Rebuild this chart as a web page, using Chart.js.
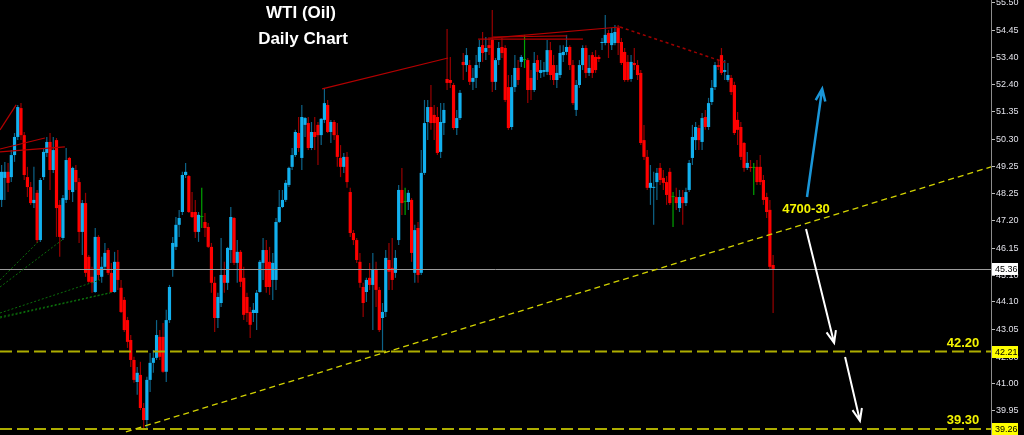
<!DOCTYPE html>
<html lang="en">
<head>
  <meta charset="UTF-8">
  <title>WTI (Oil) Daily Chart</title>
  <script src="https://cdn.jsdelivr.net/npm/chart.js"></script>
  <style>
    html, body { margin: 0; padding: 0; background: #000; }
    canvas { display: block; }
  </style>
</head>
<body>
  <canvas id="oilChart" width="1024" height="435"></canvas>

  <script>
    // daily OHLC, oldest first
    const open = [
      47.99, 48.83, 49.06, 48.86, 49.70, 50.39, 51.49, 50.46, 48.86, 48.48,
      47.87, 48.26, 46.46, 48.86, 49.78, 50.20, 49.13, 50.27, 47.80, 46.54,
      47.99, 49.59, 48.29, 49.13, 48.67, 46.77, 47.87, 45.82, 45.06, 44.48,
      46.58, 45.06, 45.44, 46.08, 45.21, 44.48, 45.63, 44.64, 44.18, 43.41,
      42.65, 41.89, 41.05, 41.32, 40.06, 39.60, 41.13, 41.78, 41.97, 42.77,
      42.77, 41.44, 43.41, 45.32, 46.20, 47.04, 47.53, 48.94, 48.90, 47.53,
      47.53, 46.77, 47.34, 47.15, 46.96, 46.20, 44.83, 43.49, 44.06, 45.13,
      44.83, 46.08, 47.30, 45.59, 46.01, 45.02, 44.29, 43.72, 43.68, 43.68,
      44.48, 45.59, 46.08, 45.63, 44.94, 44.94, 47.15, 47.72, 47.99, 48.56,
      49.25, 49.70, 50.54, 49.59, 50.85, 50.92, 49.97, 50.58, 50.85, 50.46,
      51.04, 51.61, 50.58, 50.96, 50.46, 49.59, 49.25, 49.63, 48.29, 46.73,
      46.46, 45.63, 44.67, 44.48, 45.02, 44.75, 45.32, 44.56, 43.49, 43.72,
      45.70, 45.40, 45.21, 46.46, 48.37, 47.91, 47.91, 47.99, 45.21, 46.92,
      45.21, 49.02, 50.96, 51.53, 51.23, 51.15, 49.82, 50.92, 52.60, 52.56,
      52.37, 50.73, 51.11, 53.25, 53.13, 53.13, 52.49, 52.64, 53.25, 53.89,
      53.63, 53.89, 54.09, 52.49, 53.32, 53.82, 53.78, 52.29, 50.77, 52.29,
      53.02, 53.25, 53.32, 53.32, 52.64, 52.18, 53.32, 52.83, 52.87, 52.87,
      53.70, 53.13, 52.56, 52.75, 53.51, 53.63, 53.82, 53.13, 51.42, 52.37,
      53.13, 53.78, 52.83, 53.51, 53.44, 53.44, 53.97, 53.97, 54.35, 53.89,
      53.97, 54.54, 54.01, 53.63, 53.25, 52.60, 53.21, 53.13, 52.83, 50.27,
      49.63, 48.45, 48.45, 48.67, 49.21, 48.83, 48.67, 49.06, 48.10, 48.10,
      47.68, 48.10, 47.87, 48.37, 49.59, 50.27, 50.73, 50.20, 51.15, 50.77,
      51.72, 52.29, 53.13, 53.51, 52.87, 52.56, 52.64, 52.37, 51.04, 50.77,
      50.16, 49.21, 49.25, 49.21, 49.25, 49.25, 48.75, 48.10, 47.61, 45.51
    ];
    const high = [
      49.32, 49.44, 49.40, 49.89, 50.54, 51.61, 51.68, 50.58, 49.25, 48.67,
      49.25, 48.37, 48.83, 49.97, 50.39, 50.54, 50.39, 50.35, 47.99, 48.18,
      49.97, 49.63, 49.25, 49.32, 48.83, 47.99, 48.26, 45.89, 45.44, 46.92,
      46.65, 45.82, 46.35, 46.16, 45.59, 46.01, 46.08, 44.94, 44.29, 43.53,
      42.84, 42.01, 41.62, 41.82, 40.25, 41.25, 42.16, 42.27, 43.41, 43.03,
      43.30, 43.80, 44.75, 46.58, 47.34, 47.61, 49.06, 49.40, 48.94, 48.29,
      47.99, 47.53, 48.45, 47.49, 47.11, 46.35, 45.06, 44.45, 46.54, 45.63,
      46.20, 47.72, 47.34, 46.46, 46.08, 45.44, 44.45, 43.91, 44.06, 44.56,
      45.70, 46.54, 46.46, 46.20, 45.97, 47.30, 48.37, 48.37, 48.75, 49.25,
      49.97, 50.66, 51.15, 51.61, 51.15, 51.15, 50.96, 51.15, 50.96, 51.11,
      52.22, 51.80, 51.04, 51.04, 50.92, 50.08, 49.78, 49.82, 48.45, 46.84,
      46.54, 45.97, 44.83, 45.02, 45.59, 45.97, 45.63, 44.67, 44.06, 46.08,
      46.35, 46.54, 46.08, 48.56, 49.21, 48.45, 48.37, 48.06, 47.04, 47.15,
      49.89, 51.80, 51.80, 52.37, 51.61, 51.53, 51.68, 51.68, 54.50, 53.44,
      52.45, 51.42, 52.18, 53.59, 53.78, 53.32, 53.02, 53.51, 54.09, 54.39,
      54.20, 54.20, 55.23, 53.40, 54.01, 54.16, 53.89, 52.75, 52.75, 53.51,
      53.32, 53.51, 54.28, 53.40, 52.94, 53.63, 53.51, 53.32, 53.25, 54.09,
      54.01, 53.51, 53.13, 53.89, 53.89, 54.28, 53.89, 53.32, 52.56, 53.32,
      53.89, 53.89, 53.51, 53.63, 53.70, 53.51, 54.16, 55.04, 54.47, 54.54,
      54.66, 54.66, 54.16, 53.78, 53.51, 53.51, 53.78, 53.32, 52.94, 50.85,
      49.89, 49.32, 49.06, 49.21, 49.40, 49.13, 48.90, 49.21, 48.29, 48.45,
      48.37, 48.37, 48.45, 49.51, 50.85, 50.96, 50.85, 51.30, 51.42, 51.88,
      52.56, 53.25, 53.32, 53.78, 53.32, 53.21, 52.75, 52.49, 51.34, 50.96,
      50.20, 49.82, 49.51, 49.40, 49.51, 49.70, 48.94, 48.26, 47.99, 45.89
    ];
    const low = [
      47.72, 47.99, 48.29, 48.67, 49.44, 50.27, 50.27, 48.75, 48.10, 47.80,
      47.68, 46.35, 46.39, 48.75, 49.63, 48.37, 49.02, 46.58, 45.82, 46.46,
      47.87, 47.99, 47.91, 48.37, 46.35, 45.89, 45.06, 44.83, 44.45, 44.45,
      44.94, 44.83, 45.32, 45.13, 44.45, 44.45, 44.56, 43.68, 42.96, 42.35,
      41.62, 41.02, 40.56, 39.98, 39.22, 39.30, 40.67, 41.40, 41.89, 41.89,
      41.40, 41.05, 43.30, 45.06, 46.08, 46.58, 47.42, 48.83, 47.49, 47.30,
      46.54, 46.39, 46.92, 46.58, 46.16, 44.45, 42.96, 43.11, 43.91, 44.45,
      44.56, 45.59, 45.51, 44.83, 44.67, 43.41, 43.34, 42.73, 43.34, 43.03,
      44.45, 44.94, 44.45, 44.37, 44.18, 44.56, 47.11, 47.68, 47.91, 48.48,
      49.13, 49.63, 49.82, 49.13, 50.39, 49.89, 49.89, 49.89, 49.32, 50.08,
      50.92, 50.54, 50.16, 50.27, 49.25, 48.86, 49.02, 48.45, 46.58, 46.27,
      45.59, 44.64, 43.53, 44.10, 44.56, 43.03, 43.91, 42.96, 42.20, 43.53,
      44.56, 44.56, 45.02, 46.27, 47.42, 47.42, 47.61, 45.63, 44.83, 44.83,
      45.13, 48.94, 50.27, 50.66, 50.27, 49.70, 49.59, 50.46, 52.18, 52.26,
      50.66, 50.46, 51.04, 52.56, 52.87, 52.37, 52.18, 52.26, 53.02, 53.25,
      53.32, 53.51, 52.10, 52.18, 53.13, 53.40, 51.72, 50.66, 50.66, 52.10,
      52.37, 53.06, 53.02, 51.68, 51.80, 52.10, 52.56, 52.64, 52.68, 52.75,
      52.56, 52.37, 52.26, 52.64, 53.25, 53.51, 52.94, 51.61, 51.19, 52.26,
      52.94, 52.64, 52.71, 52.64, 52.83, 53.25, 53.70, 53.89, 53.40, 53.70,
      53.89, 53.51, 53.13, 52.49, 52.49, 52.49, 52.94, 52.56, 50.08, 49.51,
      48.37, 47.80, 47.04, 47.99, 48.56, 48.37, 47.80, 47.80, 46.96, 47.61,
      47.53, 47.04, 47.76, 48.29, 49.32, 49.89, 49.89, 49.89, 50.66, 50.66,
      51.61, 52.18, 52.94, 52.75, 52.56, 52.49, 51.99, 50.46, 50.08, 49.51,
      49.06, 49.13, 49.06, 48.18, 48.56, 48.56, 47.80, 47.30, 45.32, 43.68
    ];
    const close = [
      49.06, 49.06, 48.64, 49.70, 50.39, 51.53, 50.46, 48.94, 48.48, 47.87,
      47.99, 46.46, 48.75, 49.82, 50.20, 49.13, 49.89, 47.68, 46.58, 48.06,
      49.51, 48.37, 49.21, 48.67, 46.77, 47.87, 45.21, 44.87, 44.83, 46.58,
      45.13, 45.44, 45.97, 45.21, 44.48, 45.63, 44.94, 43.72, 43.03, 42.58,
      41.89, 41.13, 41.40, 40.06, 39.60, 41.13, 41.78, 41.97, 42.84, 42.01,
      41.44, 43.41, 44.67, 46.35, 47.04, 47.30, 48.94, 49.06, 47.53, 47.34,
      46.77, 47.42, 47.34, 46.92, 46.20, 44.83, 43.49, 44.29, 45.13, 44.83,
      46.16, 47.34, 45.59, 46.01, 44.87, 43.61, 43.68, 43.23, 43.80, 44.45,
      45.63, 46.08, 44.67, 44.67, 45.59, 47.15, 47.72, 47.99, 48.64, 49.21,
      49.70, 50.58, 49.97, 51.15, 51.11, 49.97, 50.58, 50.39, 50.46, 51.08,
      51.68, 50.58, 50.96, 50.46, 49.63, 49.25, 49.63, 48.67, 46.73, 46.46,
      45.70, 44.83, 44.06, 44.94, 44.75, 45.32, 44.56, 43.03, 43.72, 45.78,
      45.25, 44.94, 45.78, 48.37, 47.87, 47.91, 48.26, 45.97, 46.84, 45.13,
      49.02, 50.92, 51.53, 50.92, 50.92, 49.78, 50.96, 51.42, 52.45, 52.45,
      50.73, 51.11, 52.07, 53.13, 53.51, 52.49, 52.64, 53.13, 53.82, 53.59,
      53.78, 53.78, 52.49, 53.32, 53.78, 53.59, 51.80, 50.73, 52.29, 53.02,
      52.56, 53.44, 53.32, 52.18, 52.18, 53.21, 52.87, 52.94, 52.94, 53.70,
      52.75, 52.56, 52.83, 53.59, 53.63, 53.82, 53.13, 51.68, 52.37, 53.13,
      53.78, 52.83, 53.02, 52.83, 52.94, 53.36, 54.01, 54.28, 53.97, 54.35,
      54.39, 53.97, 53.21, 52.56, 52.56, 53.25, 53.13, 52.75, 50.16, 49.63,
      48.45, 48.64, 48.48, 49.02, 48.75, 48.64, 48.18, 47.87, 48.10, 47.87,
      48.10, 47.87, 48.29, 49.40, 50.39, 50.77, 50.27, 51.11, 50.77, 51.68,
      52.26, 53.13, 53.06, 52.83, 52.94, 52.75, 52.10, 50.54, 50.66, 49.63,
      49.21, 49.40, 49.21, 49.21, 48.67, 48.67, 47.99, 47.53, 45.44, 45.36
    ];

    const yTicks = [55.50, 54.45, 53.40, 52.40, 51.35, 50.30, 49.25, 48.25, 47.20, 46.15, 45.10, 44.10, 43.05, 42.00, 41.00, 39.95];
    const lastPrice = 45.36;
    const supports = [42.21, 39.26];
    const supportText = ['42.20', '39.30'];

    // chart objects, in [bar index, price]
    const trendLine = [[38.5, 39.15], [306.5, 49.25]];
    const redLines = [
      [[-0.5, 50.66], [4.5, 51.61]],
      [[-0.5, 49.93], [13.4, 50.35]],
      [[-0.5, 49.82], [19.6, 50.01]],
      [[99.3, 52.22], [138.3, 53.40]],
      [[147.6, 54.12], [180.1, 54.12]],
      [[152.2, 54.20], [175.2, 54.24]],
      [[151.3, 54.16], [191.6, 54.58]]
    ];
    const redDashed = [[191.6, 54.58], [224.7, 53.21]];
    const greenLines = [
      [[-0.5, 44.94], [11.3, 46.39]],
      [[-0.5, 44.67], [18.7, 46.46]],
      [[-0.5, 43.68], [30.5, 44.94]],
      [[-0.5, 43.53], [34.5, 44.48]],
      [[-0.5, 43.49], [33.6, 44.44]]
    ];
    const arrows = [
      { from: [249.5, 48.10], to: [254.2, 52.22], color: '#1a96d8', width: 2.5 },
      { from: [249.2, 46.88], to: [257.9, 42.54], color: '#ffffff', width: 2 },
      { from: [261.3, 42.00], to: [265.9, 39.57], color: '#ffffff', width: 2 }
    ];

    const slots = 307; // bars + empty space on the right
    const days = Array.from({ length: slots }, (_, i) => 'D' + (i + 1));

    const UP = '#12b0ee', UP_WICK = '#0d6388';
    const DN = '#ff0000', DN_WICK = '#980000';
    const FLAT = '#00a400';

    const bodies = open.map((o, i) => [o, close[i]]);
    const wicks = open.map((o, i) => [low[i], high[i]]);
    const pick = (i, up, dn) => close[i] > open[i] ? up : close[i] < open[i] ? dn : FLAT;

    function seg(ctx, X, Y, line) {
      ctx.beginPath();
      ctx.moveTo(X(line[0][0]), Y(line[0][1]));
      ctx.lineTo(X(line[1][0]), Y(line[1][1]));
      ctx.stroke();
    }

    const overlay = {
      id: 'overlay',
      afterDatasetsDraw(chart) {
        const { ctx, chartArea: a, scales: { x, y } } = chart;
        const X = v => x.getPixelForValue(v);
        const Y = v => y.getPixelForValue(v);
        ctx.save();
        ctx.beginPath();
        ctx.rect(a.left, a.top, a.right - a.left, a.bottom - a.top);
        ctx.clip();

        // last price
        ctx.strokeStyle = '#9c9c9c';
        ctx.lineWidth = 1;
        ctx.beginPath();
        ctx.moveTo(a.left, Math.round(Y(lastPrice)) + 0.5);
        ctx.lineTo(a.right, Math.round(Y(lastPrice)) + 0.5);
        ctx.stroke();

        // support levels
        ctx.strokeStyle = '#adad00';
        ctx.lineWidth = 2;
        ctx.setLineDash([12, 5]);
        supports.forEach(v => {
          ctx.beginPath();
          ctx.moveTo(a.left, Y(v));
          ctx.lineTo(a.right, Y(v));
          ctx.stroke();
        });

        // rising trend line
        ctx.strokeStyle = '#d2d200';
        ctx.lineWidth = 1.3;
        ctx.setLineDash([6, 4]);
        seg(ctx, X, Y, trendLine);

        // green fan lines
        ctx.strokeStyle = '#0b6e0b';
        ctx.lineWidth = 1;
        ctx.setLineDash([2, 2]);
        greenLines.forEach(l => seg(ctx, X, Y, l));

        // red lines
        ctx.strokeStyle = '#b40000';
        ctx.lineWidth = 1.2;
        ctx.setLineDash([]);
        redLines.forEach(l => seg(ctx, X, Y, l));
        ctx.strokeStyle = '#a00000';
        ctx.lineWidth = 1.5;
        ctx.setLineDash([3, 3]);
        seg(ctx, X, Y, redDashed);
        ctx.setLineDash([]);

        // arrows
        arrows.forEach(ar => {
          const x1 = X(ar.from[0]), y1 = Y(ar.from[1]);
          const x2 = X(ar.to[0]), y2 = Y(ar.to[1]);
          const ang = Math.atan2(y2 - y1, x2 - x1);
          ctx.strokeStyle = ar.color;
          ctx.lineWidth = ar.width;
          ctx.beginPath();
          ctx.moveTo(x1, y1);
          ctx.lineTo(x2, y2);
          ctx.moveTo(x2 - 13 * Math.cos(ang - 0.38), y2 - 13 * Math.sin(ang - 0.38));
          ctx.lineTo(x2, y2);
          ctx.lineTo(x2 - 13 * Math.cos(ang + 0.38), y2 - 13 * Math.sin(ang + 0.38));
          ctx.stroke();
        });

        // texts
        ctx.fillStyle = '#ffffff';
        ctx.textAlign = 'center';
        ctx.textBaseline = 'alphabetic';
        ctx.font = 'bold 17px "Liberation Sans", Arial, sans-serif';
        ctx.fillText('WTI (Oil)', 301, 18);
        ctx.fillText('Daily Chart', 303, 44);

        ctx.fillStyle = '#f4f400';
        ctx.font = 'bold 13px "Liberation Sans", Arial, sans-serif';
        ctx.fillText('4700-30', 806, 213);
        supports.forEach((v, i) => ctx.fillText(supportText[i], 963, Y(v) - 5));
        ctx.restore();
      },
      afterDraw(chart) {
        const { ctx, chartArea: a, scales: { y } } = chart;
        const tags = [[lastPrice, '#ffffff'], [supports[0], '#ffff00'], [supports[1], '#ffff00']];
        ctx.save();
        ctx.font = '9px "Liberation Sans", Arial, sans-serif';
        ctx.textAlign = 'left';
        ctx.textBaseline = 'middle';
        tags.forEach(([v, bg]) => {
          const py = Math.round(y.getPixelForValue(v));
          ctx.fillStyle = bg;
          ctx.fillRect(a.right + 1, py - 6, 26, 12);
          ctx.fillStyle = '#000000';
          ctx.fillText(v.toFixed(2), a.right + 4, py + 0.5);
        });
        ctx.restore();
      }
    };

    const ctx = document.getElementById('oilChart').getContext('2d');
    const oilChart = new Chart(ctx, {
      type: 'bar',
      data: {
        labels: days,
        datasets: [
          {
            label: 'Body',
            data: bodies,
            backgroundColor: open.map((o, i) => pick(i, UP, DN)),
            barThickness: 3.2,
            minBarLength: 1,
            inflateAmount: 0,
            grouped: false,
            order: 1
          },
          {
            label: 'Wick',
            data: wicks,
            backgroundColor: open.map((o, i) => pick(i, UP_WICK, DN_WICK)),
            barThickness: 1.2,
            inflateAmount: 0,
            grouped: false,
            order: 2
          }
        ]
      },
      options: {
        responsive: false,
        animation: false,
        layout: { padding: 0 },
        plugins: {
          legend: { display: false },
          tooltip: { enabled: false }
        },
        scales: {
          x: { display: false, offset: true, grid: { display: false } },
          y: {
            position: 'right',
            min: 39.03,
            max: 55.61,
            afterBuildTicks: s => { s.ticks = yTicks.map(v => ({ value: v })); },
            afterFit: s => { s.width = 33; s.paddingTop = 0; s.paddingBottom = 0; },
            grid: { drawOnChartArea: false, drawTicks: true, tickLength: 4, color: '#bdbdbd' },
            border: { display: true, color: '#8c8c8c', width: 1 },
            ticks: {
              color: '#e2e2ea',
              padding: 1,
              autoSkip: false,
              font: { family: '"Liberation Sans", Arial, sans-serif', size: 9 },
              callback: v => Number(v).toFixed(2)
            }
          }
        }
      },
      plugins: [overlay]
    });
  </script>
</body>
</html>
